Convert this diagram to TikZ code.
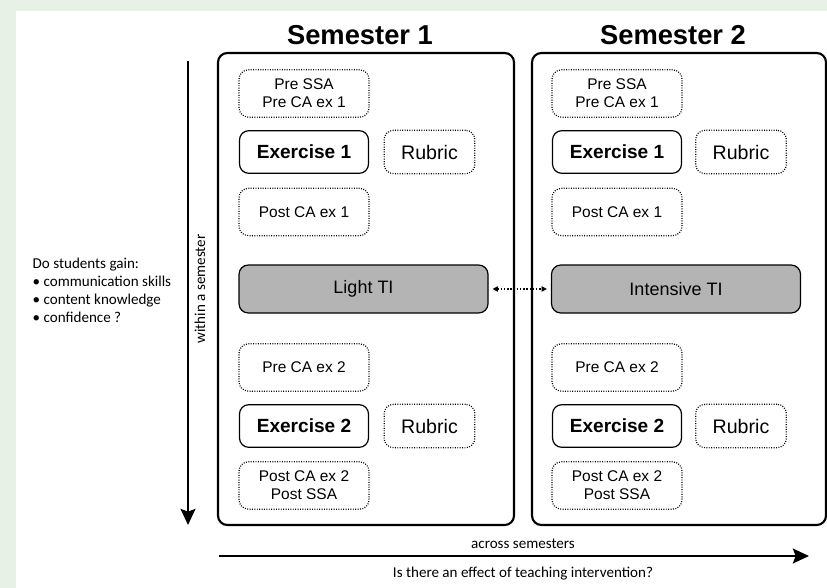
\documentclass[tikz,border=0pt]{standalone}
\usepackage{fontspec}
\setmainfont{Liberation Sans}
\newfontfamily\carlito{Carlito}
\usepackage{xcolor}
\usepackage{tikz}
\usetikzlibrary{arrows.meta}
\definecolor{bggreen}{RGB}{232,241,230}
\definecolor{tigray}{RGB}{180,180,180}

\begin{document}
\begin{tikzpicture}[
  x=0.75pt, y=-0.75pt,
  sembox/.style={draw, rounded corners=7pt, line width=1.6pt, minimum width=222pt, minimum height=354pt},
  assess/.style={draw, dash pattern=on 0.7pt off 1.1pt, line width=0.9pt, rounded corners=7pt, align=center, minimum width=97.5pt, minimum height=35.5pt, font=\fontsize{11.6}{13.5}\selectfont},
  exbox/.style={draw, rounded corners=7pt, line width=0.9pt, minimum width=96.75pt, minimum height=32pt, font=\fontsize{14.3}{16}\selectfont\bfseries},
  rubric/.style={assess, minimum width=68pt, minimum height=32.5pt, font=\fontsize{14.7}{16}\selectfont},
  tibox/.style={draw, fill=tigray, rounded corners=7pt, line width=0.9pt, minimum width=186.75pt, minimum height=36pt, font=\fontsize{13.5}{16}\selectfont},
  semtitle/.style={font=\fontsize{20.5}{24}\selectfont\bfseries},
  note/.style={font=\carlito\fontsize{11.3}{13.5}\selectfont},
  bigarrow/.style={line width=2.2pt, -{Stealth[length=12pt,width=11pt,inset=2pt]}},
  tiarrow/.style={line width=0.9pt, dash pattern=on 1pt off 1.4pt, {Triangle[length=4pt,width=4pt]}-{Triangle[length=4pt,width=4pt]}}
]
\useasboundingbox (0,0) rectangle (827,588);
\fill[bggreen] (0,0) rectangle (827,588);
\fill[white] (16,11) rectangle (827,588);

% semester 1
\node[semtitle] (title1) at (360,35) {Semester 1};
\node[sembox] (sem1) at (366,289) {};
\node[assess] (pre1) at (304,93.5) {Pre SSA\\Pre CA ex 1};
\node[exbox] (exa1) at (304,152) {Exercise 1};
\node[rubric] (ruba1) at (429.5,152) {Rubric};
\node[assess] (post1) at (304,212) {Post CA ex 1};
\node[tibox] (light) at (363.5,289) {Light TI};
\node[assess] (pre2) at (304,367.5) {Pre CA ex 2};
\node[exbox] (exb1) at (304,426) {Exercise 2};
\node[rubric] (rubb1) at (429.5,426) {Rubric};
\node[assess] (post2) at (304,485.5) {Post CA ex 2\\Post SSA};

% semester 2
\node[semtitle] (title2) at (673,35) {Semester 2};
\node[sembox, minimum width=220.5pt] (sem2) at (679,289) {};
\node[assess] (pre1b) at (617,93.5) {Pre SSA\\Pre CA ex 1};
\node[exbox] (exa2) at (617,152) {Exercise 1};
\node[rubric] (ruba2) at (741,152) {Rubric};
\node[assess] (post1b) at (617,212) {Post CA ex 1};
\node[tibox] (intensive) at (676,289) {Intensive TI};
\node[assess] (pre2b) at (617,367.5) {Pre CA ex 2};
\node[exbox] (exb2) at (617,426) {Exercise 2};
\node[rubric] (rubb2) at (741,426) {Rubric};
\node[assess] (post2b) at (617,485.5) {Post CA ex 2\\Post SSA};

\draw[tiarrow, shorten <=3pt, shorten >=3pt] (light) -- (intensive);

% axes
\coordinate (wtop) at (188,61);
\coordinate (wbot) at (188,525);
\draw[bigarrow] (wtop) -- (wbot);
\node[note, rotate=90] (within) at (200,289) {within a semester};

\coordinate (aleft) at (219,556);
\coordinate (aright) at (809,556);
\draw[bigarrow] (aleft) -- (aright);
\node[note] (across) at (523,544) {across semesters};
\node[note] (effect) at (523,574) {Is there an effect of teaching intervention?};

\node[note, align=left, anchor=west] (gain) at (28,290) {Do students gain:\\ • communication skills\\ • content knowledge\\ • confidence ?};
\end{tikzpicture}
\end{document}
